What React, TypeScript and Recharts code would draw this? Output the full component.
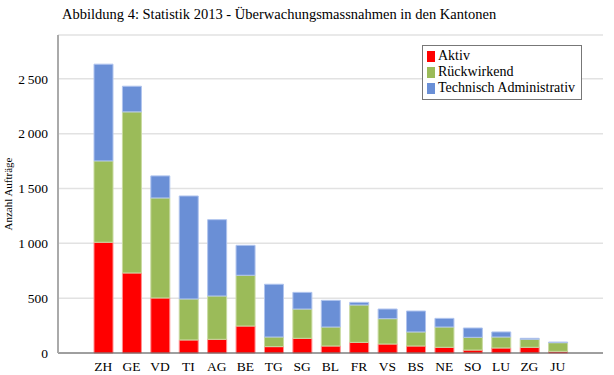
import React from 'react';
import { BarChart, Bar, XAxis, YAxis, CartesianGrid } from 'recharts';

const cantons = ['ZH', 'GE', 'VD', 'TI', 'AG', 'BE', 'TG', 'SG', 'BL', 'FR', 'VS', 'BS', 'NE', 'SO', 'LU', 'ZG', 'JU'];
const aktiv = [1010, 730, 502, 119, 125, 246, 58, 134, 64, 97, 82, 64, 52, 27, 46, 52, 15];
const rueckwirkend = [742, 1469, 912, 374, 395, 463, 88, 267, 173, 341, 231, 128, 185, 116, 100, 73, 79];
const technisch = [882, 234, 201, 939, 696, 273, 481, 152, 243, 24, 88, 191, 79, 85, 46, 9, 6];
const yTicks = [0, 500, 1000, 1500, 2000, 2500];

const seriesNames = ['Aktiv', 'Rückwirkend', 'Technisch Administrativ'];
const fills = ['#ff0000', '#9bbb59', '#6a8fd6'];
const strokes = ['#ff9090', '#c8daa0', '#b0c4ee'];

const data = cantons.map((c, i) => ({
  name: c,
  a: aktiv[i],
  r: rueckwirkend[i],
  t: technisch[i],
}));

const FONT = '"Liberation Serif", "DejaVu Serif", serif';

const fmt = (v: number) => {
  const s = String(v);
  if (s.length > 3) return s.slice(0, s.length - 3) + '\u2009' + s.slice(s.length - 3);
  return s;
};

const LegendBox = () => (
  <div
    style={{
      position: 'absolute',
      left: 422,
      top: 45,
      border: '1px solid #777',
      background: '#fff',
      padding: '2px 6px 3px 4px',
      fontFamily: FONT,
      fontSize: 14,
      color: '#000',
      lineHeight: '16px',
    }}
  >
    {seriesNames.map((n, i) => (
      <div key={n} style={{ display: 'flex', alignItems: 'center' }}>
        <span style={{ display: 'inline-block', width: 8, height: 11, background: fills[i], marginRight: 3 }} />
        <span>{n}</span>
      </div>
    ))}
  </div>
);

const YLabel = () => (
  <text
    x={8}
    y={194}
    transform="rotate(-90, 8, 194)"
    textAnchor="middle"
    dominantBaseline="central"
    fontFamily={FONT}
    fontSize={11}
    fill="#000"
  >
    Anzahl Aufträge
  </text>
);

export default function App() {
  return (
    <div style={{ position: 'absolute', left: 0, top: 0, width: 614, height: 375, background: '#fff' }}>
      <div
        style={{
          position: 'absolute',
          left: 62,
          top: 6,
          fontFamily: FONT,
          fontSize: 14.5,
          color: '#000',
          whiteSpace: 'nowrap',
        }}
      >
        Abbildung 4: Statistik 2013 - Überwachungsmassnahmen in den Kantonen
      </div>
      <BarChart
        width={614}
        height={375}
        data={data}
        margin={{ top: 35, right: 11, left: 0, bottom: 0 }}
        barSize={19}
        style={{ fontFamily: FONT }}
      >
        <CartesianGrid vertical={false} stroke="#e2e2e2" strokeWidth={1.5} />
        <XAxis
          dataKey="name"
          height={22}
          padding={{ left: 31, right: 31 }}
          tickLine={false}
          axisLine={{ stroke: '#555' }}
          tick={{ fontFamily: FONT, fontSize: 13.5, fill: '#000' }}
          tickMargin={2}
          interval={0}
        />
        <XAxis xAxisId="top" orientation="top" height={0} tick={false} tickLine={false} axisLine={{ stroke: '#999' }} dataKey="name" />
        <YAxis
          width={58}
          domain={[0, 2900]}
          ticks={yTicks}
          tickFormatter={fmt}
          tickLine={false}
          axisLine={{ stroke: '#aaa', strokeWidth: 2 }}
          tick={{ fontFamily: FONT, fontSize: 13.5, fill: '#000' }}
          tickMargin={4}
          label={<YLabel />}
        />
        <YAxis yAxisId="right" orientation="right" width={0} tick={false} tickLine={false} axisLine={{ stroke: '#999' }} />
        <Bar dataKey="a" name={seriesNames[0]} stackId="s" fill={fills[0]} stroke={strokes[0]} strokeWidth={1} isAnimationActive={false} />
        <Bar dataKey="r" name={seriesNames[1]} stackId="s" fill={fills[1]} stroke={strokes[1]} strokeWidth={1} isAnimationActive={false} />
        <Bar dataKey="t" name={seriesNames[2]} stackId="s" fill={fills[2]} stroke={strokes[2]} strokeWidth={1} isAnimationActive={false} />
      </BarChart>
      <LegendBox />
    </div>
  );
}
